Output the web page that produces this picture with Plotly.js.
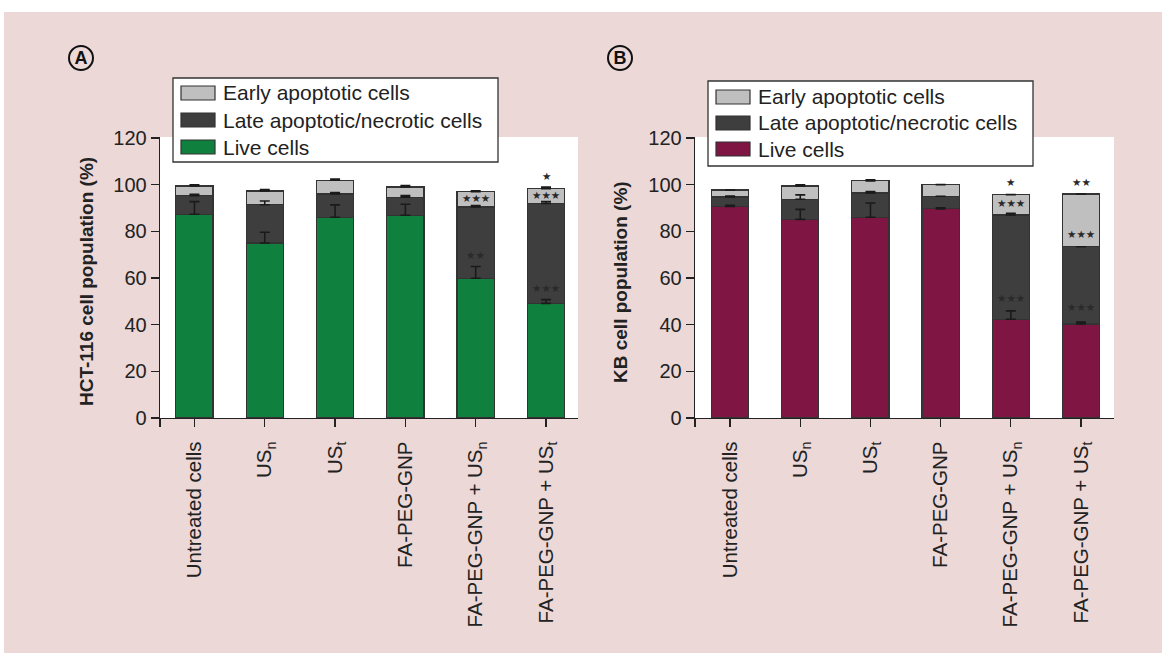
<!DOCTYPE html>
<html>
<head>
<meta charset="utf-8">
<script src="https://cdn.plot.ly/plotly-3.0.1.min.js"></script>
<style>html,body{margin:0;padding:0;background:#fff;}#chart{width:1162px;height:653px;}</style>
</head>
<body>
<div id="chart"></div>
<script>
// ---------- data ----------
const categories = ['Untreated cells', 'US<sub>n</sub>', 'US<sub>t</sub>', 'FA-PEG-GNP',
  'FA-PEG-GNP + US<sub>n</sub>', 'FA-PEG-GNP + US<sub>t</sub>'];
const seriesNames = ['Early apoptotic cells', 'Late apoptotic/necrotic cells', 'Live cells'];

// Panel A (HCT-116) – segment heights (%)
const liveA  = [87.3, 75.0, 86.0, 86.9, 59.9, 49.1];
const lateA  = [8.0, 16.4, 10.0, 7.7, 30.5, 42.8];
const earlyA = [4.1, 5.9, 5.9, 4.4, 6.6, 6.4];
const liveErrA  = [5.4, 4.6, 5.3, 4.7, 5.0, 1.6];
const lateErrA  = [0.6, 1.6, 0.6, 0.7, 0.6, 0.8];
const earlyErrA = [0.5, 0.6, 0.5, 0.6, 0.4, 0.7];

// Panel B (KB) – segment heights (%)
const liveB  = [90.6, 85.1, 86.0, 89.6, 42.3, 40.3];
const lateB  = [4.1, 8.6, 10.4, 5.4, 44.7, 33.1];
const earlyB = [3.0, 5.7, 5.2, 5.0, 8.7, 22.6];
const liveErrB  = [0.5, 4.3, 6.1, 0.5, 3.6, 0.8];
const lateErrB  = [0.4, 1.9, 0.6, 0, 0.7, 0];
const earlyErrB = [0, 0.5, 0.5, 0, 0, 0];

// significance marks: category index, y value, label
const sigAx = [4, 4, 5, 5, 5];
const sigAy = [69.9, 94.4, 55.6, 95.6, 103.9];
const sigAt = ['★★', '★★★', '★★★', '★★★', '★'];
const sigBx = [4, 4, 4, 5, 5, 5];
const sigBy = [51.3, 92.3, 101.3, 47.7, 78.7, 101.3];
const sigBt = ['★★★', '★★★', '★', '★★★', '★★★', '★★'];

const yTicks = [0, 20, 40, 60, 80, 100, 120];

// ---------- style ----------
const W = 1162, H = 653;
const PINK = '#ebd8d7';
const GREEN = '#10803f', MAROON = '#7e1543', DARK = '#3d3e3d', LIGHT = '#c0bfc0';
const INK = '#222222';
const FONT = 'Liberation Sans, Arial, sans-serif';
const fx = x => x / W, fy = y => 1 - y / H;
const xIdx = categories.map((c, i) => i);

function segTrace(vals, color, xa, ya) {
  return {
    type: 'bar', x: xIdx, y: vals, xaxis: xa, yaxis: ya, width: 0.53,
    marker: {color: color, line: {color: '#333', width: 1.2}},
    hoverinfo: 'skip', showlegend: false
  };
}
function cumsum(...arrs) { return arrs[0].map((v, i) => arrs.reduce((s, a) => s + a[i], 0)); }
function errTrace(tops, errs, xa, ya) {
  return {
    type: 'scatter', mode: 'markers', x: xIdx, y: tops, xaxis: xa, yaxis: ya,
    marker: {size: 1, color: 'rgba(0,0,0,0)'},
    error_y: {type: 'data', symmetric: false, array: errs, arrayminus: errs.map(() => 0),
      color: '#1a1a1a', thickness: 1.6, width: 5},
    hoverinfo: 'skip', showlegend: false
  };
}

const data = [
  segTrace(liveA, GREEN, 'x', 'y'),
  segTrace(lateA, DARK, 'x', 'y'),
  segTrace(earlyA, LIGHT, 'x', 'y'),
  segTrace(liveB, MAROON, 'x2', 'y2'),
  segTrace(lateB, DARK, 'x2', 'y2'),
  segTrace(earlyB, LIGHT, 'x2', 'y2'),
  errTrace(liveA, liveErrA, 'x', 'y'),
  errTrace(cumsum(liveA, lateA), lateErrA, 'x', 'y'),
  errTrace(cumsum(liveA, lateA, earlyA), earlyErrA, 'x', 'y'),
  errTrace(liveB, liveErrB, 'x2', 'y2'),
  errTrace(cumsum(liveB, lateB), lateErrB, 'x2', 'y2'),
  errTrace(cumsum(liveB, lateB, earlyB), earlyErrB, 'x2', 'y2')
];

function xAxis(dom, anchor, r) {
  return {
    domain: dom, anchor: anchor, range: r, showgrid: false, zeroline: false,
    showline: true, linecolor: INK, linewidth: 1.3,
    ticks: 'outside', ticklen: 8, tickwidth: 1.3, tickcolor: INK, ticklabelstandoff: 6,
    tickmode: 'array', tickvals: [r[0] + 0.002].concat(xIdx), ticktext: [''].concat(categories),
    tickangle: -90, tickfont: {family: FONT, size: 20.5, color: INK}, fixedrange: true
  };
}
function yAxis(anchor) {
  return {
    domain: [fy(418), fy(137)], anchor: anchor, range: [0, 120.4], showgrid: false, zeroline: false,
    showline: true, linecolor: INK, linewidth: 1.3,
    ticks: 'outside', ticklen: 8, tickwidth: 1.3, tickcolor: INK,
    tickmode: 'array', tickvals: yTicks, ticktext: yTicks.map(String),
    tickfont: {family: FONT, size: 20, color: INK}, fixedrange: true
  };
}

const shapes = [
  {type: 'rect', xref: 'paper', yref: 'paper', x0: 0, x1: 1, y0: fy(12), y1: 1, fillcolor: '#fff', line: {width: 0}},
  {type: 'rect', xref: 'paper', yref: 'paper', x0: 0, x1: fx(4), y0: 0, y1: 1, fillcolor: '#fff', line: {width: 0}},
  {type: 'circle', xref: 'paper', yref: 'paper', x0: fx(69), x1: fx(93), y0: fy(70), y1: fy(46), line: {color: '#111', width: 2}, fillcolor: 'rgba(0,0,0,0)'},
  {type: 'circle', xref: 'paper', yref: 'paper', x0: fx(608), x1: fx(632), y0: fy(70), y1: fy(46), line: {color: '#111', width: 2}, fillcolor: 'rgba(0,0,0,0)'}
];
const annotations = [
  {xref: 'paper', yref: 'paper', x: fx(81), y: fy(58), xanchor: 'center', yanchor: 'middle', width: 22, height: 22, align: 'center', valign: 'middle',
   text: '<b>A</b>', showarrow: false, font: {family: FONT, size: 18, color: '#111'}},
  {xref: 'paper', yref: 'paper', x: fx(620), y: fy(58), xanchor: 'center', yanchor: 'middle', width: 22, height: 22, align: 'center', valign: 'middle',
   text: '<b>B</b>', showarrow: false, font: {family: FONT, size: 18, color: '#111'}},
  {xref: 'paper', yref: 'paper', x: fx(87), y: fy(282), xanchor: 'center', yanchor: 'middle', text: '<b>HCT-116 cell population (%)</b>', textangle: -90, showarrow: false, font: {family: FONT, size: 19, color: INK}},
  {xref: 'paper', yref: 'paper', x: fx(621), y: fy(282), xanchor: 'center', yanchor: 'middle', text: '<b>KB cell population (%)</b>', textangle: -90, showarrow: false, font: {family: FONT, size: 19, color: INK}}
];

function legend(x0, y0, x1, y1, swX, txX, rows, colors) {
  shapes.push({type: 'rect', xref: 'paper', yref: 'paper', x0: fx(x0), x1: fx(x1), y0: fy(y1), y1: fy(y0), fillcolor: '#fff', line: {color: '#333', width: 1.3}});
  rows.forEach((ry, i) => {
    shapes.push({type: 'rect', xref: 'paper', yref: 'paper', x0: fx(swX), x1: fx(swX + 34), y0: fy(ry + 7), y1: fy(ry - 7), fillcolor: colors[i], line: {color: '#333', width: 1.2}});
    annotations.push({xref: 'paper', yref: 'paper', x: fx(txX), y: fy(ry), xanchor: 'left', yanchor: 'middle', text: seriesNames[i], showarrow: false, font: {family: FONT, size: 21, color: INK}});
  });
}
legend(173, 78, 498, 162, 181, 221, [93, 120, 147], [LIGHT, DARK, GREEN]);
legend(708, 81, 1033, 166, 716, 756, [97, 123, 149], [LIGHT, DARK, MAROON]);

function sig(xs, ys, ts, xa, ya) {
  xs.forEach((x, i) => annotations.push({xref: xa, yref: ya, x: x, y: ys[i], xanchor: 'center', yanchor: 'middle', text: ts[i], showarrow: false,
    font: {family: 'DejaVu Sans', size: 10.5, color: '#2a2a2a'}}));
}
sig(sigAx, sigAy, sigAt, 'x', 'y');
sig(sigBx, sigBy, sigBt, 'x2', 'y2');

const layout = {
  width: W, height: H, margin: {l: 0, r: 0, t: 0, b: 0},
  paper_bgcolor: PINK, plot_bgcolor: '#ffffff', barmode: 'stack', showlegend: false,
  xaxis: xAxis([fx(160), fx(578)], 'y', [-0.49, 5.455]),
  yaxis: yAxis('x'),
  xaxis2: xAxis([fx(695), fx(1114)], 'y2', [-0.5, 5.47]),
  yaxis2: yAxis('x2'),
  shapes: shapes, annotations: annotations
};

Plotly.newPlot('chart', data, layout, {displayModeBar: false, staticPlot: true});
</script>
</body>
</html>
